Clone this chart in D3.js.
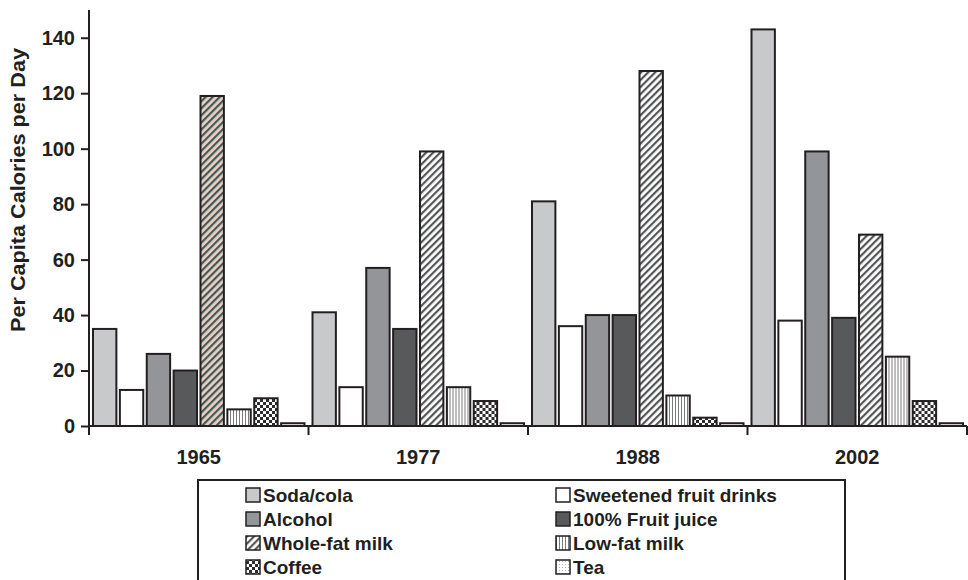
<!DOCTYPE html>
<html>
<head>
<meta charset="utf-8">
<script src="https://cdn.jsdelivr.net/npm/d3@7/dist/d3.min.js"></script>
<style>
  html, body { margin: 0; padding: 0; background: #fff; }
  svg { display: block; }
  text { font-family: "Liberation Sans", Arial, sans-serif; fill: #231f20; }
</style>
</head>
<body>
<svg id="chart" width="968" height="580"></svg>
<script>
// Beverage calories per capita per day, by survey year
const years = ["1965", "1977", "1988", "2002"];
const series = ["Soda/cola", "Sweetened fruit drinks", "Alcohol", "100% Fruit juice",
                "Whole-fat milk", "Low-fat milk", "Coffee", "Tea"];
const sodaCola        = [35, 41, 81, 143];
const sweetenedDrinks = [13, 14, 36, 38];
const alcohol         = [26, 57, 40, 99];
const fruitJuice      = [20, 35, 40, 39];
const wholeFatMilk    = [119, 99, 128, 69];
const lowFatMilk      = [6, 14, 11, 25];
const coffee          = [10, 9, 3, 9];
const tea             = [1, 1, 1, 1];
const yTicks = [0, 20, 40, 60, 80, 100, 120, 140];

const seriesValues = [sodaCola, sweetenedDrinks, alcohol, fruitJuice,
                      wholeFatMilk, lowFatMilk, coffee, tea];

const svg = d3.select("#chart");
const ink = "#231f20";
const font = "'Liberation Sans', Arial, sans-serif";

// ---- fill patterns ----
const defs = svg.append("defs");

function hatch(id, bg, fg) {
  const p = defs.append("pattern").attr("id", id)
    .attr("patternUnits", "userSpaceOnUse").attr("width", 5).attr("height", 5)
    .attr("patternTransform", "rotate(45)");
  p.append("rect").attr("width", 5).attr("height", 5).attr("fill", bg);
  p.append("rect").attr("x", 0).attr("width", 2.2).attr("height", 5).attr("fill", fg);
}
hatch("pat-whole", "#ffffff", "#555658");
hatch("pat-whole-alt", "#efcfc2", "#3e5b5c");

const vs = defs.append("pattern").attr("id", "pat-lowfat")
  .attr("patternUnits", "userSpaceOnUse").attr("width", 3).attr("height", 3);
vs.append("rect").attr("width", 3).attr("height", 3).attr("fill", "#ffffff");
vs.append("rect").attr("width", 1).attr("height", 3).attr("fill", "#7a7b7d");

const ck = defs.append("pattern").attr("id", "pat-coffee")
  .attr("patternUnits", "userSpaceOnUse").attr("width", 6).attr("height", 6);
ck.append("rect").attr("width", 6).attr("height", 6).attr("fill", "#ffffff");
ck.append("rect").attr("width", 3).attr("height", 3).attr("fill", "#2c2c2e");
ck.append("rect").attr("x", 3).attr("y", 3).attr("width", 3).attr("height", 3).attr("fill", "#2c2c2e");

const dt = defs.append("pattern").attr("id", "pat-tea")
  .attr("patternUnits", "userSpaceOnUse").attr("width", 3).attr("height", 3);
dt.append("rect").attr("width", 3).attr("height", 3).attr("fill", "#ffffff");
dt.append("rect").attr("width", 1).attr("height", 1).attr("fill", "#b5b6b8");

const fills = {
  "Soda/cola": "#c8c9cb",
  "Sweetened fruit drinks": "#ffffff",
  "Alcohol": "#939598",
  "100% Fruit juice": "#58595b",
  "Whole-fat milk": "url(#pat-whole)",
  "Low-fat milk": "url(#pat-lowfat)",
  "Coffee": "url(#pat-coffee)",
  "Tea": "url(#pat-tea)"
};

// ---- scales ----
const x0 = d3.scaleBand().domain(years).range([89, 967]).padding(0);
const x1 = d3.scaleBand().domain(series).range([4, x0.bandwidth() - 4]).paddingInner(0.13);
const y = d3.scaleLinear().domain([0, 150]).range([426, 10]);

// ---- bars ----
const groups = svg.append("g").selectAll("g").data(years).join("g")
  .attr("transform", d => `translate(${x0(d)},0)`);

groups.selectAll("rect")
  .data((yr, i) => series.map((s, k) => ({ year: yr, series: s, value: seriesValues[k][i] })))
  .join("rect")
  .attr("x", d => x1(d.series))
  .attr("y", d => y(d.value))
  .attr("width", x1.bandwidth())
  .attr("height", d => y(0) - y(d.value))
  .attr("fill", d => (d.series === "Whole-fat milk" && d.year === "1965") ? "url(#pat-whole-alt)" : fills[d.series])
  .attr("stroke", ink)
  .attr("stroke-width", 2);

// ---- axes ----
const yAxis = svg.append("g").attr("transform", "translate(89,0)")
  .call(d3.axisLeft(y).tickValues(yTicks).tickSize(8).tickPadding(6));
yAxis.select(".domain").attr("d", `M0,${y(0)}V${y(150)}`);
yAxis.selectAll("path, line").attr("stroke", ink).attr("stroke-width", 2);
yAxis.selectAll("text").attr("font-size", 20).attr("font-weight", "bold")
  .attr("font-family", font).attr("fill", ink);

const xAxis = svg.append("g").attr("transform", `translate(0,${y(0)})`)
  .call(d3.axisBottom(x0).tickSize(0).tickPadding(24));
xAxis.select(".domain").attr("d", `M89,0H967`);
xAxis.selectAll("path").attr("stroke", ink).attr("stroke-width", 2);
xAxis.selectAll("text").attr("font-size", 20).attr("font-weight", "bold")
  .attr("font-family", font).attr("fill", ink);

// group separators below the baseline
const bounds = years.map(d => x0(d)).concat([x0.range()[1]]);
svg.append("g").selectAll("line").data(bounds).join("line")
  .attr("x1", d => d).attr("x2", d => d)
  .attr("y1", y(0)).attr("y2", y(0) + 9)
  .attr("stroke", ink).attr("stroke-width", 2);

// y-axis title
svg.append("text")
  .attr("transform", `translate(25,190) rotate(-90)`)
  .attr("text-anchor", "middle")
  .attr("font-size", 20)
  .attr("font-weight", "bold")
  .attr("textLength", 284)
  .attr("lengthAdjust", "spacingAndGlyphs")
  .text("Per Capita Calories per Day");

// ---- legend ----
const legend = svg.append("g");
legend.append("rect")
  .attr("x", 198).attr("y", 480).attr("width", 647).attr("height", 110)
  .attr("fill", "#fff").attr("stroke", ink).attr("stroke-width", 2);

const legItems = legend.selectAll("g").data(series).join("g")
  .attr("transform", (d, i) => `translate(${i % 2 === 0 ? 246 : 556},${495 + Math.floor(i / 2) * 24})`);
legItems.append("rect")
  .attr("x", 0).attr("y", -7).attr("width", 14).attr("height", 14)
  .attr("fill", d => fills[d]).attr("stroke", ink).attr("stroke-width", 1.5);
legItems.append("text")
  .attr("x", 17).attr("y", 0).attr("dy", "0.36em")
  .attr("font-size", 19).attr("font-weight", "bold")
  .text(d => d);
</script>
</body>
</html>
